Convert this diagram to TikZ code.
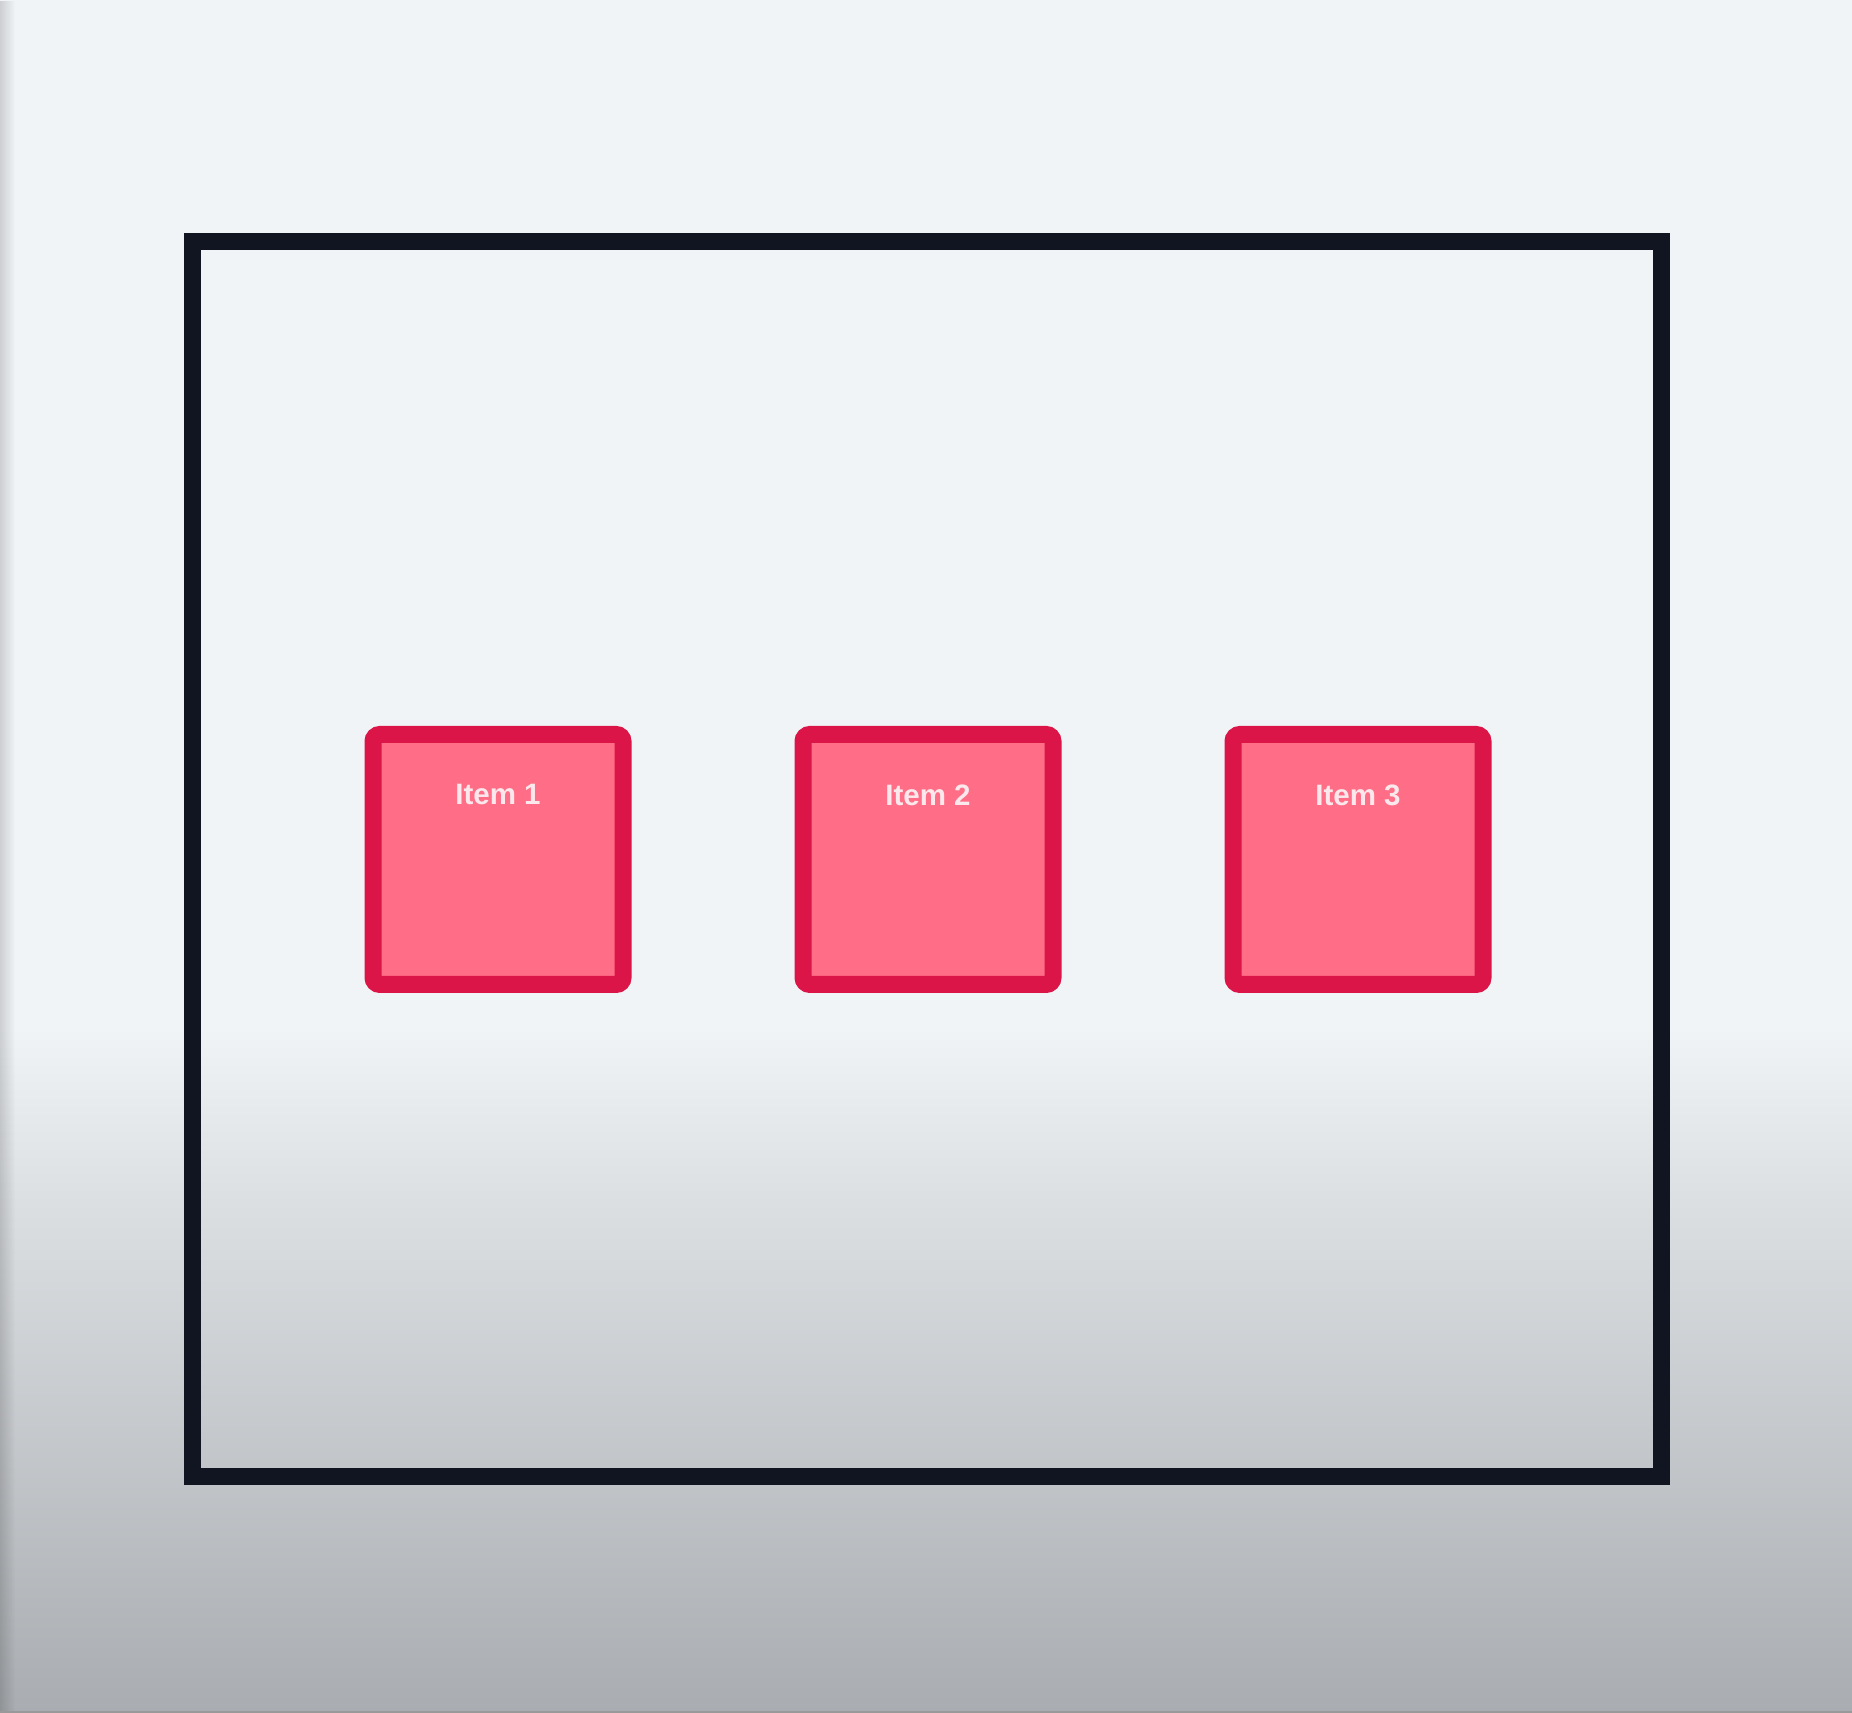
\documentclass[tikz,border=0pt]{standalone}
\usepackage{fontspec}
\setmainfont{Liberation Sans}
\usepackage{xcolor}
\usetikzlibrary{positioning,fadings}

\definecolor{bgtop}{HTML}{F1F4F7}
\definecolor{bgmid}{HTML}{DCDFE2}
\definecolor{bgbot}{HTML}{A9ADB1}
\definecolor{framecol}{HTML}{111522}
\definecolor{itemfill}{HTML}{FF6E86}
\definecolor{itemedge}{HTML}{DC1548}
\definecolor{itemtext}{HTML}{FBE8EC}

\begin{document}
\begin{tikzpicture}[
  frame/.style={draw=framecol,line width=0.17cm,minimum width=14.685cm,minimum height=12.35cm,inner sep=0pt},
  item/.style={draw=itemedge,fill=itemfill,line width=0.17cm,rounded corners=2pt,minimum width=2.5cm,minimum height=2.5cm,inner sep=0pt},
  itemlab/.style={font=\bfseries\fontsize{8.4}{10}\selectfont,text=itemtext,anchor=center,inner sep=0pt},
  node distance=1.63cm]
\useasboundingbox (0,0) rectangle (18.52,17.13);
% background
\fill[bgtop] (0,6.85) rectangle (18.52,17.13);
\shade[top color=bgtop,bottom color=bgmid] (0,5.1) rectangle (18.52,6.86);
\shade[top color=bgmid,bottom color=bgbot] (0,0) rectangle (18.52,5.11);
\fill[black,opacity=0.15,path fading=east] (0,0) rectangle (0.15,17.13);
\draw[black!40,line width=0.6pt] (0,0.01) -- (18.52,0.01);
\node[frame] (frame) at (9.2675,8.54) {};
\node[item,label={[itemlab,yshift=-0.69cm]north:Item 2}] (b2) at (9.28,8.535) {};
\node[item,label={[itemlab,yshift=-0.69cm]north:Item 1},left=of b2] (b1) {};
\node[item,label={[itemlab,yshift=-0.69cm]north:Item 3},right=of b2] (b3) {};
\end{tikzpicture}
\end{document}
